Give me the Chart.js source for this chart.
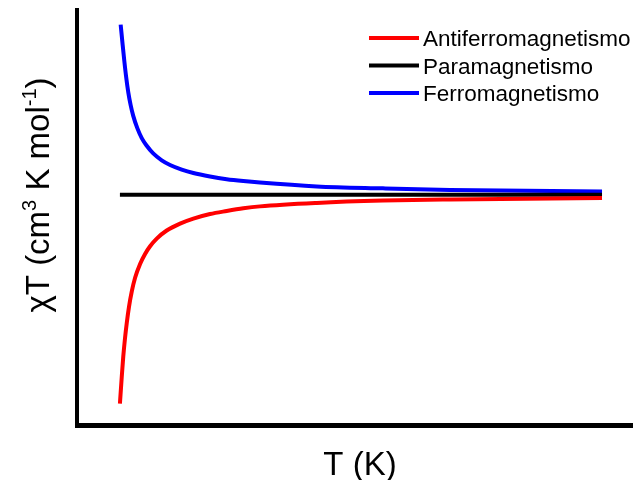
<!DOCTYPE html>
<html>
<head>
<meta charset="utf-8">
<script src="https://cdn.jsdelivr.net/npm/chart.js@4"></script>
<style>
  html, body { margin: 0; padding: 0; background: #fff; }
  canvas { display: block; }
</style>
</head>
<body>
<canvas id="chiTChart" width="633" height="480"></canvas>
<script>
// ========== χT vs T ==========

const FONT = '"Liberation Sans", Arial, sans-serif';

// Antiferromagnetismo (vermelho)
const tempAF = [23.2, 24.2, 25.0, 25.9, 26.9, 28.1, 29.6, 31.4, 34.1, 36.8, 39.5, 43.1, 48.5,
  55.7, 62.9, 71.9, 80.9, 89.9, 98.9, 129.6, 165.4, 201.6, 283.8];
const chiTAF = [0.28, 0.63, 0.89, 1.12, 1.33, 1.54, 1.74, 1.92, 2.10, 2.23, 2.33, 2.43, 2.535,
  2.625, 2.69, 2.75, 2.79, 2.825, 2.85, 2.895, 2.925, 2.94, 2.96];

// Paramagnetismo (preto)
const tempPara = [23.2, 283.8];
const chiTPara = [3.0, 3.0];

// Ferromagnetismo (azul)
const tempF = [23.6, 24.7, 25.6, 26.5, 27.7, 29.0, 30.4, 32.6, 35.0, 37.7, 41.2, 45.8, 50.3,
  56.6, 62.9, 71.9, 80.9, 89.9, 98.9, 129.6, 165.4, 201.6, 283.8];
const chiTF = [5.22, 4.95, 4.74, 4.55, 4.34, 4.17, 4.03, 3.87, 3.74, 3.64, 3.54, 3.45, 3.39,
  3.33, 3.285, 3.24, 3.205, 3.18, 3.16, 3.11, 3.085, 3.065, 3.045];

const seriesLabels = ['Antiferromagnetismo', 'Paramagnetismo', 'Ferromagnetismo'];
const seriesColors = ['#ff0000', '#000000', '#0000ff'];

function toPoints(xs, ys) {
  return xs.map((x, i) => ({ x: x, y: ys[i] }));
}

// Legenda e títulos dos eixos desenhados à mão
const labelsPlugin = {
  id: 'labels',
  afterDraw(chart) {
    const ctx = chart.ctx;
    ctx.save();

    // legenda
    ctx.font = '22.5px ' + FONT;
    ctx.textAlign = 'left';
    ctx.textBaseline = 'alphabetic';
    chart.data.datasets.forEach((ds, i) => {
      const y = 38 + i * 27.5;
      ctx.strokeStyle = ds.borderColor;
      ctx.lineWidth = 4;
      ctx.beginPath();
      ctx.moveTo(369, y);
      ctx.lineTo(419, y);
      ctx.stroke();
      ctx.fillStyle = '#000';
      ctx.fillText(ds.label, 423, y + 8);
    });

    // eixo x
    ctx.font = '33px ' + FONT;
    ctx.textAlign = 'center';
    ctx.fillText('T (K)', 360, 475);

    // eixo y, com expoentes
    const parts = [
      { t: 'χT (cm', sup: false },
      { t: '3', sup: true },
      { t: ' K mol', sup: false },
      { t: '-1', sup: true },
      { t: ')', sup: false }
    ];
    const big = '33px ' + FONT;
    const small = '20px ' + FONT;
    let total = 0;
    parts.forEach(p => {
      ctx.font = p.sup ? small : big;
      p.w = ctx.measureText(p.t).width;
      total += p.w;
    });
    ctx.translate(49, 195);
    ctx.rotate(-Math.PI / 2);
    ctx.textAlign = 'left';
    let x = -total / 2;
    parts.forEach(p => {
      ctx.font = p.sup ? small : big;
      ctx.fillText(p.t, x, p.sup ? -13 : 0);
      x += p.w;
    });

    ctx.restore();
  }
};

const ctx = document.getElementById('chiTChart').getContext('2d');

new Chart(ctx, {
  type: 'line',
  data: {
    datasets: [
      {
        label: seriesLabels[0],
        data: toPoints(tempAF, chiTAF),
        borderColor: seriesColors[0],
        borderWidth: 4,
        pointRadius: 0,
        cubicInterpolationMode: 'monotone'
      },
      {
        label: seriesLabels[1],
        data: toPoints(tempPara, chiTPara),
        borderColor: seriesColors[1],
        borderWidth: 4,
        pointRadius: 0
      },
      {
        label: seriesLabels[2],
        data: toPoints(tempF, chiTF),
        borderColor: seriesColors[2],
        borderWidth: 4,
        pointRadius: 0,
        cubicInterpolationMode: 'monotone'
      }
    ]
  },
  options: {
    responsive: false,
    animation: false,
    layout: { padding: { left: 77, right: 1, top: 10, bottom: 55 } },
    plugins: {
      legend: { display: false },
      tooltip: { enabled: false }
    },
    scales: {
      x: {
        type: 'linear',
        min: 0,
        max: 300,
        ticks: { display: false },
        grid: { display: false },
        border: { display: true, color: '#000', width: 5 },
        afterFit: scale => { scale.height = 0; }
      },
      y: {
        type: 'linear',
        min: 0,
        max: 5.41,
        ticks: { display: false },
        grid: { display: false },
        border: { display: true, color: '#000', width: 4 },
        afterFit: scale => { scale.width = 0; }
      }
    }
  },
  plugins: [labelsPlugin]
});
</script>
</body>
</html>
